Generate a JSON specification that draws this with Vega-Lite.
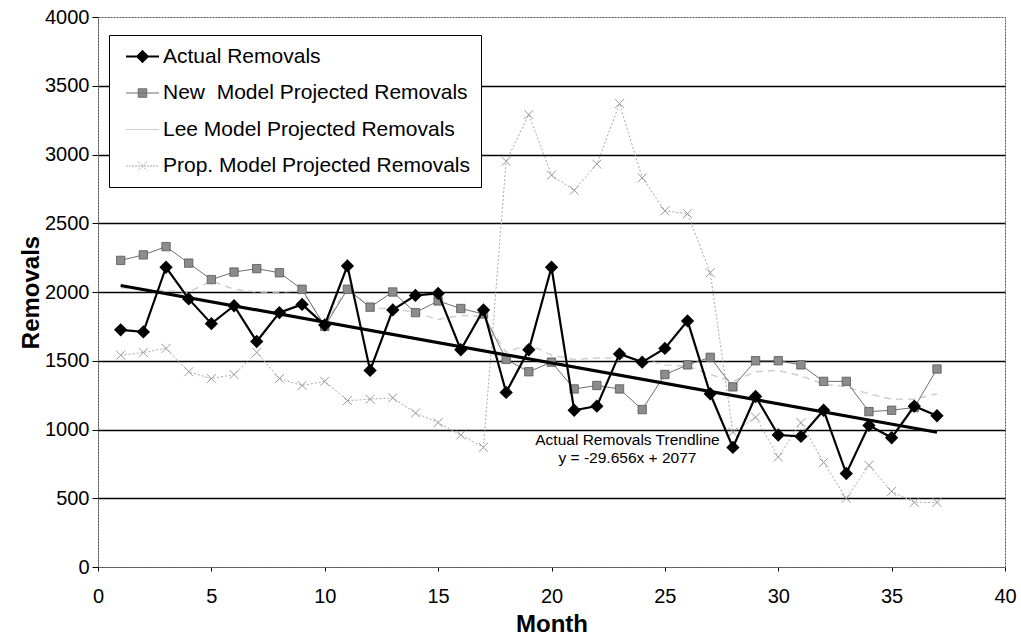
{
  "$schema": "https://vega.github.io/schema/vega-lite/v6.json",
  "width": 907,
  "height": 550,
  "autosize": {"type": "none"},
  "padding": {"left": 98, "top": 17, "right": 16, "bottom": 75},
  "background": "white",
  "config": {
    "font": "Liberation Sans",
    "view": {"stroke": "#555555", "strokeDash": [2, 1], "strokeWidth": 1}
  },
  "datasets": {
    "series": [
      {"series": "Actual Removals", "month": 1, "value": 1725},
      {"series": "Actual Removals", "month": 2, "value": 1710},
      {"series": "Actual Removals", "month": 3, "value": 2180},
      {"series": "Actual Removals", "month": 4, "value": 1950},
      {"series": "Actual Removals", "month": 5, "value": 1770},
      {"series": "Actual Removals", "month": 6, "value": 1900},
      {"series": "Actual Removals", "month": 7, "value": 1640},
      {"series": "Actual Removals", "month": 8, "value": 1850},
      {"series": "Actual Removals", "month": 9, "value": 1910},
      {"series": "Actual Removals", "month": 10, "value": 1760},
      {"series": "Actual Removals", "month": 11, "value": 2190},
      {"series": "Actual Removals", "month": 12, "value": 1430},
      {"series": "Actual Removals", "month": 13, "value": 1870},
      {"series": "Actual Removals", "month": 14, "value": 1975},
      {"series": "Actual Removals", "month": 15, "value": 1990},
      {"series": "Actual Removals", "month": 16, "value": 1580},
      {"series": "Actual Removals", "month": 17, "value": 1870},
      {"series": "Actual Removals", "month": 18, "value": 1270},
      {"series": "Actual Removals", "month": 19, "value": 1580},
      {"series": "Actual Removals", "month": 20, "value": 2180},
      {"series": "Actual Removals", "month": 21, "value": 1140},
      {"series": "Actual Removals", "month": 22, "value": 1170},
      {"series": "Actual Removals", "month": 23, "value": 1550},
      {"series": "Actual Removals", "month": 24, "value": 1490},
      {"series": "Actual Removals", "month": 25, "value": 1590},
      {"series": "Actual Removals", "month": 26, "value": 1790},
      {"series": "Actual Removals", "month": 27, "value": 1260},
      {"series": "Actual Removals", "month": 28, "value": 870},
      {"series": "Actual Removals", "month": 29, "value": 1240},
      {"series": "Actual Removals", "month": 30, "value": 960},
      {"series": "Actual Removals", "month": 31, "value": 950},
      {"series": "Actual Removals", "month": 32, "value": 1140},
      {"series": "Actual Removals", "month": 33, "value": 680},
      {"series": "Actual Removals", "month": 34, "value": 1030},
      {"series": "Actual Removals", "month": 35, "value": 940},
      {"series": "Actual Removals", "month": 36, "value": 1170},
      {"series": "Actual Removals", "month": 37, "value": 1100},
      {"series": "New\u00a0 Model Projected Removals", "month": 1, "value": 2230},
      {"series": "New\u00a0 Model Projected Removals", "month": 2, "value": 2270},
      {"series": "New\u00a0 Model Projected Removals", "month": 3, "value": 2330},
      {"series": "New\u00a0 Model Projected Removals", "month": 4, "value": 2210},
      {"series": "New\u00a0 Model Projected Removals", "month": 5, "value": 2090},
      {"series": "New\u00a0 Model Projected Removals", "month": 6, "value": 2145},
      {"series": "New\u00a0 Model Projected Removals", "month": 7, "value": 2170},
      {"series": "New\u00a0 Model Projected Removals", "month": 8, "value": 2140},
      {"series": "New\u00a0 Model Projected Removals", "month": 9, "value": 2020},
      {"series": "New\u00a0 Model Projected Removals", "month": 10, "value": 1750},
      {"series": "New\u00a0 Model Projected Removals", "month": 11, "value": 2020},
      {"series": "New\u00a0 Model Projected Removals", "month": 12, "value": 1890},
      {"series": "New\u00a0 Model Projected Removals", "month": 13, "value": 2000},
      {"series": "New\u00a0 Model Projected Removals", "month": 14, "value": 1850},
      {"series": "New\u00a0 Model Projected Removals", "month": 15, "value": 1935},
      {"series": "New\u00a0 Model Projected Removals", "month": 16, "value": 1880},
      {"series": "New\u00a0 Model Projected Removals", "month": 17, "value": 1840},
      {"series": "New\u00a0 Model Projected Removals", "month": 18, "value": 1510},
      {"series": "New\u00a0 Model Projected Removals", "month": 19, "value": 1420},
      {"series": "New\u00a0 Model Projected Removals", "month": 20, "value": 1490},
      {"series": "New\u00a0 Model Projected Removals", "month": 21, "value": 1295},
      {"series": "New\u00a0 Model Projected Removals", "month": 22, "value": 1320},
      {"series": "New\u00a0 Model Projected Removals", "month": 23, "value": 1295},
      {"series": "New\u00a0 Model Projected Removals", "month": 24, "value": 1145},
      {"series": "New\u00a0 Model Projected Removals", "month": 25, "value": 1400},
      {"series": "New\u00a0 Model Projected Removals", "month": 26, "value": 1470},
      {"series": "New\u00a0 Model Projected Removals", "month": 27, "value": 1525},
      {"series": "New\u00a0 Model Projected Removals", "month": 28, "value": 1310},
      {"series": "New\u00a0 Model Projected Removals", "month": 29, "value": 1500},
      {"series": "New\u00a0 Model Projected Removals", "month": 30, "value": 1500},
      {"series": "New\u00a0 Model Projected Removals", "month": 31, "value": 1470},
      {"series": "New\u00a0 Model Projected Removals", "month": 32, "value": 1350},
      {"series": "New\u00a0 Model Projected Removals", "month": 33, "value": 1350},
      {"series": "New\u00a0 Model Projected Removals", "month": 34, "value": 1130},
      {"series": "New\u00a0 Model Projected Removals", "month": 35, "value": 1140},
      {"series": "New\u00a0 Model Projected Removals", "month": 36, "value": 1160},
      {"series": "New\u00a0 Model Projected Removals", "month": 37, "value": 1440},
      {"series": "Lee Model Projected Removals", "month": 1, "value": 2030},
      {"series": "Lee Model Projected Removals", "month": 2, "value": 2020},
      {"series": "Lee Model Projected Removals", "month": 3, "value": 2010},
      {"series": "Lee Model Projected Removals", "month": 4, "value": 2000},
      {"series": "Lee Model Projected Removals", "month": 5, "value": 2080},
      {"series": "Lee Model Projected Removals", "month": 6, "value": 2020},
      {"series": "Lee Model Projected Removals", "month": 7, "value": 2000},
      {"series": "Lee Model Projected Removals", "month": 8, "value": 2000},
      {"series": "Lee Model Projected Removals", "month": 9, "value": 2010},
      {"series": "Lee Model Projected Removals", "month": 10, "value": 1760},
      {"series": "Lee Model Projected Removals", "month": 11, "value": 2040},
      {"series": "Lee Model Projected Removals", "month": 12, "value": 1880},
      {"series": "Lee Model Projected Removals", "month": 13, "value": 1880},
      {"series": "Lee Model Projected Removals", "month": 14, "value": 1850},
      {"series": "Lee Model Projected Removals", "month": 15, "value": 1800},
      {"series": "Lee Model Projected Removals", "month": 16, "value": 1830},
      {"series": "Lee Model Projected Removals", "month": 17, "value": 1820},
      {"series": "Lee Model Projected Removals", "month": 18, "value": 1560},
      {"series": "Lee Model Projected Removals", "month": 19, "value": 1620},
      {"series": "Lee Model Projected Removals", "month": 20, "value": 1540},
      {"series": "Lee Model Projected Removals", "month": 21, "value": 1510},
      {"series": "Lee Model Projected Removals", "month": 22, "value": 1520},
      {"series": "Lee Model Projected Removals", "month": 23, "value": 1520},
      {"series": "Lee Model Projected Removals", "month": 24, "value": 1510},
      {"series": "Lee Model Projected Removals", "month": 25, "value": 1470},
      {"series": "Lee Model Projected Removals", "month": 26, "value": 1460},
      {"series": "Lee Model Projected Removals", "month": 27, "value": 1400},
      {"series": "Lee Model Projected Removals", "month": 28, "value": 1350},
      {"series": "Lee Model Projected Removals", "month": 29, "value": 1420},
      {"series": "Lee Model Projected Removals", "month": 30, "value": 1430},
      {"series": "Lee Model Projected Removals", "month": 31, "value": 1390},
      {"series": "Lee Model Projected Removals", "month": 32, "value": 1330},
      {"series": "Lee Model Projected Removals", "month": 33, "value": 1310},
      {"series": "Lee Model Projected Removals", "month": 34, "value": 1260},
      {"series": "Lee Model Projected Removals", "month": 35, "value": 1220},
      {"series": "Lee Model Projected Removals", "month": 36, "value": 1220},
      {"series": "Lee Model Projected Removals", "month": 37, "value": 1260},
      {"series": "Prop. Model Projected Removals", "month": 1, "value": 1540},
      {"series": "Prop. Model Projected Removals", "month": 2, "value": 1560},
      {"series": "Prop. Model Projected Removals", "month": 3, "value": 1590},
      {"series": "Prop. Model Projected Removals", "month": 4, "value": 1420},
      {"series": "Prop. Model Projected Removals", "month": 5, "value": 1370},
      {"series": "Prop. Model Projected Removals", "month": 6, "value": 1400},
      {"series": "Prop. Model Projected Removals", "month": 7, "value": 1560},
      {"series": "Prop. Model Projected Removals", "month": 8, "value": 1370},
      {"series": "Prop. Model Projected Removals", "month": 9, "value": 1320},
      {"series": "Prop. Model Projected Removals", "month": 10, "value": 1350},
      {"series": "Prop. Model Projected Removals", "month": 11, "value": 1210},
      {"series": "Prop. Model Projected Removals", "month": 12, "value": 1220},
      {"series": "Prop. Model Projected Removals", "month": 13, "value": 1230},
      {"series": "Prop. Model Projected Removals", "month": 14, "value": 1120},
      {"series": "Prop. Model Projected Removals", "month": 15, "value": 1050},
      {"series": "Prop. Model Projected Removals", "month": 16, "value": 960},
      {"series": "Prop. Model Projected Removals", "month": 17, "value": 870},
      {"series": "Prop. Model Projected Removals", "month": 18, "value": 2950},
      {"series": "Prop. Model Projected Removals", "month": 19, "value": 3290},
      {"series": "Prop. Model Projected Removals", "month": 20, "value": 2850},
      {"series": "Prop. Model Projected Removals", "month": 21, "value": 2740},
      {"series": "Prop. Model Projected Removals", "month": 22, "value": 2930},
      {"series": "Prop. Model Projected Removals", "month": 23, "value": 3370},
      {"series": "Prop. Model Projected Removals", "month": 24, "value": 2830},
      {"series": "Prop. Model Projected Removals", "month": 25, "value": 2590},
      {"series": "Prop. Model Projected Removals", "month": 26, "value": 2570},
      {"series": "Prop. Model Projected Removals", "month": 27, "value": 2140},
      {"series": "Prop. Model Projected Removals", "month": 28, "value": 980},
      {"series": "Prop. Model Projected Removals", "month": 29, "value": 1090},
      {"series": "Prop. Model Projected Removals", "month": 30, "value": 800},
      {"series": "Prop. Model Projected Removals", "month": 31, "value": 1050},
      {"series": "Prop. Model Projected Removals", "month": 32, "value": 760},
      {"series": "Prop. Model Projected Removals", "month": 33, "value": 500},
      {"series": "Prop. Model Projected Removals", "month": 34, "value": 740},
      {"series": "Prop. Model Projected Removals", "month": 35, "value": 550},
      {"series": "Prop. Model Projected Removals", "month": 36, "value": 470},
      {"series": "Prop. Model Projected Removals", "month": 37, "value": 470}
    ],
    "trend": [
      {"month": 1, "value": 2047.3},
      {"month": 37, "value": 979.7}
    ],
    "note": [
      {"month": 23.35, "value": 924, "label": "Actual Removals Trendline"},
      {"month": 23.35, "value": 793, "label": "y = -29.656x + 2077"}
    ]
  },
  "encoding": {
    "x": {
      "field": "month",
      "type": "quantitative",
      "scale": {"domain": [0, 40], "nice": false, "zero": false},
      "axis": {
        "title": "Month",
        "values": [0, 5, 10, 15, 20, 25, 30, 35, 40],
        "grid": false,
        "labelFlush": false,
        "labelFontSize": 20,
        "labelColor": "#000000",
        "labelPadding": 15,
        "tickSize": 4,
        "tickColor": "#000000",
        "domainColor": "#555555",
        "domainDash": [2, 1],
        "titleFontSize": 24,
        "titleFontWeight": "bold",
        "titleColor": "#000000",
        "titlePadding": 6
      }
    },
    "y": {
      "field": "value",
      "type": "quantitative",
      "scale": {"domain": [0, 4000], "nice": false},
      "axis": {
        "title": "Removals",
        "format": "d",
        "values": [0, 500, 1000, 1500, 2000, 2500, 3000, 3500, 4000],
        "grid": true,
        "gridColor": "#000000",
        "gridWidth": 1.4,
        "gridOpacity": {"condition": {"test": "datum.value <= 0 || datum.value >= 4000", "value": 0}, "value": 1},
        "labelFontSize": 20,
        "labelColor": "#000000",
        "labelPadding": 3,
        "tickSize": 6,
        "tickColor": "#000000",
        "domainColor": "#555555",
        "domainDash": [2, 1],
        "titleFontSize": 24,
        "titleFontWeight": "bold",
        "titleColor": "#000000",
        "titlePadding": 1
      }
    }
  },
  "layer": [
    {
      "data": {"name": "series"},
      "transform": [{"filter": "datum.series === 'Prop. Model Projected Removals'"}],
      "mark": {"type": "line", "strokeWidth": 1, "strokeDash": [2, 2]},
      "encoding": {
        "color": {
          "field": "series",
          "type": "nominal",
          "scale": {
            "domain": ["Actual Removals", "New\u00a0 Model Projected Removals", "Lee Model Projected Removals", "Prop. Model Projected Removals"],
            "range": ["#000000", "#6e6e6e", "#cfcfcf", "#a8a8a8"]
          },
          "legend": {
            "title": null,
            "orient": "none",
            "legendX": 11,
            "legendY": 18,
            "direction": "vertical",
            "fillColor": "white",
            "strokeColor": "#000000",
            "padding": 11,
            "symbolOffset": 12,
            "symbolSize": 1089,
            "labelFontSize": 21,
            "labelColor": "#000000",
            "labelOffset": 10,
            "labelLimit": 400,
            "rowPadding": 14.5,
            "encoding": {
              "symbols": {
                "shape": {"value": {"expr": "datum.value === 'Actual Removals' ? 'M-1,0L1,0M0,-0.32L0.32,0L0,0.32L-0.32,0Z' : datum.value === 'New\u00a0 Model Projected Removals' ? 'M-1,0L1,0M-0.26,-0.26L0.26,-0.26L0.26,0.26L-0.26,0.26Z' : datum.value === 'Lee Model Projected Removals' ? 'M-1,0L1,0' : 'M-1,0L1,0M-0.28,-0.28L0.28,0.28M0.28,-0.28L-0.28,0.28'"}},
                "fill": {"value": {"expr": "datum.value === 'Actual Removals' ? '#000000' : datum.value === 'New\u00a0 Model Projected Removals' ? '#8a8a8a' : 'transparent'"}},
                "stroke": {"value": {"expr": "datum.value === 'Actual Removals' ? '#000000' : datum.value === 'New\u00a0 Model Projected Removals' ? '#666666' : datum.value === 'Lee Model Projected Removals' ? '#eeeeee' : '#a0a0a0'"}},
                "strokeWidth": {"value": {"expr": "datum.value === 'Actual Removals' ? 2 : 1"}},
                "strokeDash": {"value": {"expr": "datum.value === 'Prop. Model Projected Removals' ? [2, 1] : [1, 0]"}},
                "opacity": {"value": 1}
              }
            }
          }
        }
      }
    },
    {
      "data": {"name": "series"},
      "transform": [{"filter": "datum.series === 'Prop. Model Projected Removals'"}],
      "mark": {"type": "point", "shape": "M-1,-1L1,1M1,-1L-1,1", "filled": false, "stroke": "#999999", "strokeWidth": 1, "size": 80, "opacity": 1}
    },
    {
      "data": {"name": "series"},
      "transform": [{"filter": "datum.series === 'Lee Model Projected Removals'"}],
      "mark": {"type": "line", "strokeWidth": 1.5, "strokeDash": [7, 5]},
      "encoding": {
        "color": {"field": "series", "type": "nominal", "legend": null}
      }
    },
    {
      "data": {"name": "series"},
      "transform": [{"filter": "datum.series === 'New\u00a0 Model Projected Removals'"}],
      "mark": {"type": "line", "strokeWidth": 1},
      "encoding": {
        "color": {"field": "series", "type": "nominal", "legend": null}
      }
    },
    {
      "data": {"name": "series"},
      "transform": [{"filter": "datum.series === 'New\u00a0 Model Projected Removals'"}],
      "mark": {"type": "point", "shape": "square", "filled": true, "fill": "#8c8c8c", "stroke": "#555555", "strokeWidth": 0.8, "size": 70, "opacity": 1}
    },
    {
      "data": {"name": "series"},
      "transform": [{"filter": "datum.series === 'Actual Removals'"}],
      "mark": {"type": "line", "strokeWidth": 2.2},
      "encoding": {
        "color": {"field": "series", "type": "nominal", "legend": null}
      }
    },
    {
      "data": {"name": "series"},
      "transform": [{"filter": "datum.series === 'Actual Removals'"}],
      "mark": {"type": "point", "shape": "diamond", "filled": true, "fill": "#000000", "stroke": "#000000", "size": 110, "opacity": 1}
    },
    {
      "data": {"name": "trend"},
      "mark": {"type": "line", "color": "#000000", "strokeWidth": 3.2}
    },
    {
      "data": {"name": "note"},
      "mark": {"type": "text", "fontSize": 15.5, "color": "#000000", "align": "center", "baseline": "middle"},
      "encoding": {"text": {"field": "label"}}
    }
  ]
}
